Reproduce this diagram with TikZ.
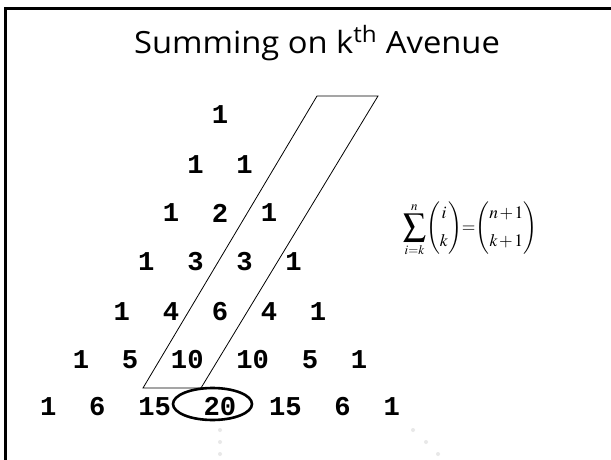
\documentclass[tikz,border=0pt]{standalone}
\usepackage{mathptmx}
\usepackage[no-math]{fontspec}
\newfontfamily\monob{Liberation Mono}
\newfontfamily\titlefont{Open Sans}
\tikzset{
  num/.style={font=\monob\bfseries\fontsize{27.2}{30}\selectfont, inner sep=0pt, anchor=center},
  frameline/.style={line width=3pt, line join=miter},
  avenue/.style={line width=0.8pt, line join=miter},
  ring/.style={line width=2.6pt},
  faintdot/.style={fill=black!9}
}
\begin{document}
\begin{tikzpicture}[x=1pt,y=-1pt]
\useasboundingbox (0,0) rectangle (611,460);
\fill[white] (0,0) rectangle (611,460);
% frame
\draw[frameline] (5.5,460) -- (5.5,9) -- (611,9);
% title
\node[font=\titlefont\fontsize{30.6}{36}\selectfont, anchor=base, inner sep=0pt] (title) at (317,54) {\scalebox{1.07}[1]{Summing on k\textsuperscript{th} Avenue}};
% avenue parallelogram
\draw[avenue] (143,388) -- (317,96) -- (378,96) -- (201,388) -- cycle;
% rows
\node[num] (r1a) at (220,115) {1};
\node[num] (r2a) at (195.5,165) {1};
\node[num] (r2b) at (244.5,165) {1};
\node[num] (r3a) at (171,213) {1};
\node[num] (r3b) at (220,213) {2};
\node[num] (r3c) at (269,213) {1};
\node[num] (r4a) at (146.4,262) {1};
\node[num] (r4b) at (195.5,262) {3};
\node[num] (r4c) at (244.5,262) {3};
\node[num] (r4d) at (293.6,262) {1};
\node[num] (r5a) at (121.9,312) {1};
\node[num] (r5b) at (171,312) {4};
\node[num] (r5c) at (220,312) {6};
\node[num] (r5d) at (269,312) {4};
\node[num] (r5e) at (318,312) {1};
\node[num] (r6a) at (81,360) {1};
\node[num] (r6b) at (130,360) {5};
\node[num] (r6c) at (187.3,360) {10};
\node[num] (r6d) at (252.7,360) {10};
\node[num] (r6e) at (310,360) {5};
\node[num] (r6f) at (359,360) {1};
\node[num] (r7a) at (48.3,407) {1};
\node[num] (r7b) at (97.3,407) {6};
\node[num] (r7c) at (154.6,407) {15};
\node[num] (r7d) at (220,407) {20};
\node[num] (r7e) at (285.4,407) {15};
\node[num] (r7f) at (342.6,407) {6};
\node[num] (r7g) at (391.7,407) {1};
% ring around 20
\draw[ring] (212.5,404) ellipse [x radius=39.5, y radius=16];
% formula
\node[inner sep=0pt] (formula) at (470,229)
  {\scalebox{1.75}{$\displaystyle \mathop{\vcenter{\hbox{\scalebox{1.3}{$\displaystyle\sum$}}}}\limits_{i=k}^{n}\!\left(\begin{array}{@{}c@{}} i\\[4pt] k\end{array}\right)\mkern-2mu{=}\mkern-2mu\left(\begin{array}{@{}c@{}} n\mkern-1mu+\mkern-1mu1\\[4pt] k\mkern-1mu+\mkern-1mu1\end{array}\right)$}};
% faint dots
\fill[faintdot] (220,430) circle (2);
\fill[faintdot] (220,442) circle (2);
\fill[faintdot] (220,454) circle (2);
\fill[faintdot] (413,430) circle (2);
\fill[faintdot] (426,442) circle (2);
\fill[faintdot] (438,454) circle (2);
\end{tikzpicture}
\end{document}
